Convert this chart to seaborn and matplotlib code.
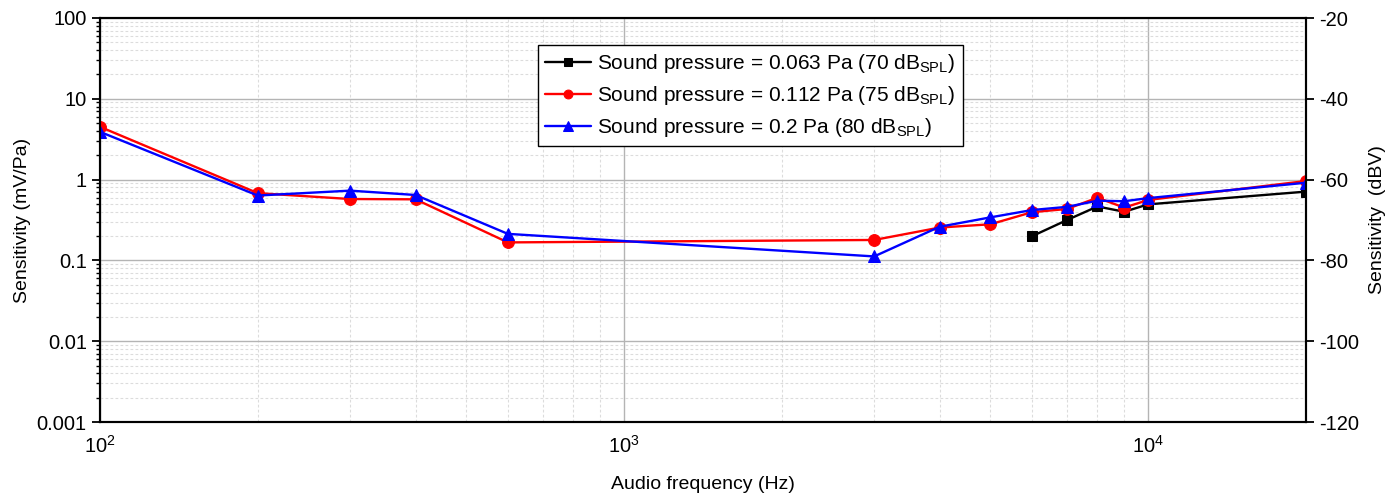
import numpy as np
import pandas as pd
import matplotlib
matplotlib.use("Agg")
import matplotlib.pyplot as plt
import matplotlib.ticker as mticker
import seaborn as sns

# ---- data ----
freq_70 = [6000, 7000, 8000, 9000, 10000, 20000]
sens_70 = [0.199, 0.316, 0.465, 0.40, 0.494, 0.71]

freq_75 = [100, 200, 300, 400, 600, 3000, 4000, 5000, 6000, 7000, 8000, 9000, 10000, 20000]
sens_75 = [4.5, 0.68, 0.575, 0.57, 0.167, 0.179, 0.255, 0.28, 0.395, 0.433, 0.597, 0.45, 0.56, 0.96]

freq_80 = [100, 200, 300, 400, 600, 3000, 4000, 5000, 6000, 7000, 8000, 9000, 10000, 20000]
sens_80 = [3.9, 0.635, 0.73, 0.645, 0.213, 0.112, 0.261, 0.341, 0.42, 0.46, 0.548, 0.54, 0.59, 0.915]

labels = [
    r"Sound pressure = 0.063 Pa (70 dB$_{\mathrm{SPL}}$)",
    r"Sound pressure = 0.112 Pa (75 dB$_{\mathrm{SPL}}$)",
    r"Sound pressure = 0.2 Pa (80 dB$_{\mathrm{SPL}}$)",
]
colors = ["black", "red", "blue"]
markers = ["s", "o", "^"]
msizes = [7, 8.5, 9]

left_ticks = [0.001, 0.01, 0.1, 1, 10, 100]
left_ticklabels = ["0.001", "0.01", "0.1", "1", "10", "100"]
x_ticks = [100, 1000, 10000]
x_ticklabels = [r"$10^2$", r"$10^3$", r"$10^4$"]

sns.set_theme(style="white")
plt.rcParams["font.family"] = ["Liberation Sans", "DejaVu Sans"]
plt.rcParams["mathtext.fontset"] = "custom"
plt.rcParams["mathtext.rm"] = "Liberation Sans"
plt.rcParams["mathtext.it"] = "Liberation Sans:italic"
plt.rcParams["mathtext.bf"] = "Liberation Sans:bold"
plt.rcParams["axes.unicode_minus"] = False
plt.rcParams["text.color"] = "black"
plt.rcParams["axes.labelcolor"] = "black"
plt.rcParams["xtick.color"] = "black"
plt.rcParams["ytick.color"] = "black"

fig = plt.figure(figsize=(13.95, 4.96), dpi=100)
ax = fig.add_axes([100 / 1395, 1 - 422 / 496, (1306 - 100) / 1395, (422 - 18) / 496])

series = [(freq_70, sens_70), (freq_75, sens_75), (freq_80, sens_80)]
for (f, s), lab, c, m, ms in zip(series, labels, colors, markers, msizes):
    df = pd.DataFrame({"f": f, "s": s})
    sns.lineplot(data=df, x="f", y="s", ax=ax, color=c, marker=m, markersize=ms,
                 markeredgecolor=c, linewidth=1.7, label=lab, sort=False, zorder=3)

ax.set_xscale("log")
ax.set_yscale("log")
ax.set_xlim(100, 20000)
ax.set_ylim(0.001, 100)

ax.grid(True, which="major", color="#b4b4b4", linestyle="-", linewidth=1.0)
ax.grid(True, which="minor", color="#dcdcdc", linestyle=(0, (2.5, 2)), linewidth=0.8)
ax.set_axisbelow(True)

ax.yaxis.set_major_locator(mticker.FixedLocator(left_ticks))
ax.yaxis.set_major_formatter(mticker.FixedFormatter(left_ticklabels))
ax.yaxis.set_minor_locator(mticker.LogLocator(base=10, subs=np.arange(2, 10), numticks=20))
ax.yaxis.set_minor_formatter(mticker.NullFormatter())
ax.xaxis.set_major_locator(mticker.FixedLocator(x_ticks))
ax.xaxis.set_major_formatter(mticker.FixedFormatter(x_ticklabels))
ax.xaxis.set_minor_locator(mticker.LogLocator(base=10, subs=np.arange(2, 10), numticks=20))
ax.xaxis.set_minor_formatter(mticker.NullFormatter())

ax.tick_params(which="major", direction="out", length=6, width=1.3, labelsize=14.5, color="black")
ax.tick_params(which="minor", direction="out", length=3, width=1.0, color="black")
ax.tick_params(axis="y", which="both", right=False)
ax.tick_params(axis="x", which="both", top=False)
ax.tick_params(axis="x", which="major", pad=3)

for sp in ax.spines.values():
    sp.set_color("black")
    sp.set_linewidth(1.5)

ax.set_xlabel("Audio frequency (Hz)", fontsize=14, labelpad=14)
ax.set_ylabel("Sensitivity (mV/Pa)", fontsize=14, labelpad=4)

ax2 = ax.twinx()
ax2.set_ylim(-120, -20)
ax2.yaxis.set_major_locator(mticker.MultipleLocator(20))
ax2.tick_params(axis="y", which="major", direction="out", length=6, width=1.3, labelsize=14.5, color="black")
ax2.set_ylabel("Sensitivity  (dBV)", fontsize=14, labelpad=7)
ax2.grid(False)
for sp in ax2.spines.values():
    sp.set_color("black")
    sp.set_linewidth(1.5)

leg = ax.legend(loc="upper left", bbox_to_anchor=((538 - 100) / 1206, (422 - 45) / 404),
                fontsize=15, frameon=True, fancybox=False, framealpha=1,
                edgecolor="black", handlelength=2.2, borderpad=0.35, labelspacing=0.42,
                handletextpad=0.3, borderaxespad=0, markerscale=0.75)
leg.get_frame().set_linewidth(1.0)

fig.savefig("out.png", dpi=100)
